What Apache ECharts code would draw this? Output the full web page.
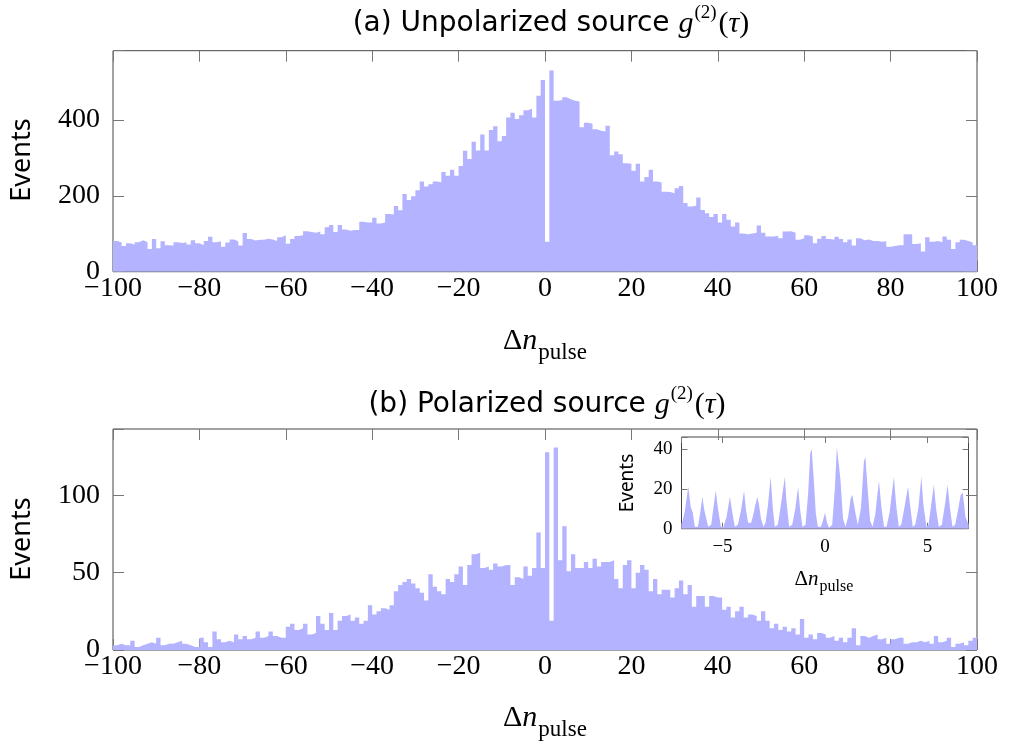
<!DOCTYPE html>
<html><head><meta charset="utf-8">
<script src="https://cdn.jsdelivr.net/npm/echarts@6/dist/echarts.min.js"></script>
<style>html,body{margin:0;padding:0;background:#fff}#c{width:1009px;height:742px}</style>
</head><body><div id="c"></div>
<script>
// ---------- data ----------
const binStart = -100;          // first bin left edge (pulses), bin width 1
const topValues = [
81,77,68,75,72,78,83,78,60,86, 62,80,70,69,78,76,78,72,83,75,
70,81,92,78,80,66,77,85,80,69, 102,86,82,84,84,87,85,81,91,96,
74,86,94,96,107,105,103,106,99,117, 123,105,123,111,108,110,110,132,130,130,
142,127,130,152,151,173,162,205,189,
199,215,238,225,231,238,236,263,253,269, 253,279,319,297,343,320,362,320,374,384,
344,358,407,419,403,413,426,430,407,464, 506,
79,
531,451,453,460,455,451,449,381,393,390, 376,372,370,385,307,317,310,286,285,266,
285,238,250,269,238,235,211,210,207,220, 226,181,172,
174,196,163,154,144,152,130,152,137,119, 130,101,99,101,103,122,103,93,93,95,
88,106,107,103,84,88,96,93,75,87, 94,86,84,92,86,78,85,69,88,83,
85,81,81,79,80,66,68,70,70,99, 99,73,75,53,91,79,81,78,93,84,
60,78,84,81,77,70
];
const bottomValues = [
3,4,3,3,6,2,3,4,5,4, 8,3,4,4,5,6,4,3,2,2,
8,5,2,12,7,5,6,5,10,7, 9,7,8,12,8,9,12,9,8,8,
15,17,13,14,17,10,11,22,17,13, 24,13,19,22,23,19,21,17,19,29,
23,25,27,26,29,38,42,44,46,
43,40,37,32,49,41,38,36,46,44, 49,54,42,55,62,63,53,54,52,56,
54,55,55,42,47,46,54,48,53,76, 53,
128,19,131,58,80,51,62,53,53,57, 53,59,54,57,57,58,46,40,55,58,
40,50,55,52,38,46,36,39,39,34, 40,45,36,42,28,35,
35,28,35,34,34,26,28,21,25,28, 21,23,22,19,25,19,14,17,13,15,
12,14,10,20,8,10,7,11,10,8, 9,6,8,5,8,14,3,9,8,9,
10,7,8,4,7,8,8,4,5,5, 6,5,6,4,9,5,6,8,2,4,
5,3,6,8
];
const insetX = [-7.0,-6.85,-6.67,-6.55,-6.45,-6.35,-6.2,-6.1,-5.98,-5.9,-5.82,-5.7,-5.55,-5.45,-5.33,-5.22,-5.08,
-4.95,-4.8,-4.64,-4.52,-4.4,-4.25,-4.1,-3.95,-3.85,-3.75,-3.6,-3.5,-3.42,-3.3,-3.22,-3.12,-3.0,-2.9,-2.78,-2.65,
-2.55,-2.45,-2.3,-2.15,-1.96,-1.88,-1.75,-1.6,-1.45,-1.31,-1.22,-1.1,-0.95,-0.82,-0.72,-0.65,-0.55,-0.45,-0.35,
-0.2,-0.1,0.0,0.1,0.2,0.35,0.48,0.58,0.65,0.75,0.88,1.0,1.13,1.25,1.33,1.42,1.5,1.6,1.75,1.9,1.97,2.08,2.2,2.32,
2.45,2.63,2.75,2.88,3.0,3.15,3.36,3.47,3.6,3.72,3.88,4.05,4.15,4.28,4.4,4.55,4.7,4.8,4.95,5.05,5.18,5.31,5.42,
5.55,5.7,5.85,5.98,6.1,6.22,6.35,6.5,6.62,6.72,6.85,7.0];
const insetY = [2,8,21,11,8,1,1,7,16,10,9,1,2,10,19,10,1,
1,6,16,8,1,2,9,19,9,3,3,7,11,16,12,5,1,3,12,26,
11,1,2,12,26,14,1,2,10,21,10,1,2,18,38,40,25,8,1,
1,4,8,3,0.5,2,20,41,42,25,5,1,6,15,17,16,7,2,10,34,36,20,4,1,
7,24,11,1,1,8,26,12,1,2,11,21,12,1,2,10,26,12,1,
2,12,22,10,1,2,12,22,10,1,2,10,17,18,6,2];
const titleA = '(a) Unpolarized source ';
const titleB = '(b) Polarized source ';
const yName = 'Events';

// ---------- helpers ----------
const FILL = '#b3b3ff';
const SERIF = 'Liberation Serif';
const SANS = 'Noto Sans';
const TSANS = 'DejaVu Sans';
const minus = v => (v < 0 ? '\u2212' + Math.abs(v) : String(v));
function stepData(vals, start) {
  const d = vals.map((v, i) => [start + i, v]);
  d.push([start + vals.length, vals[vals.length - 1]]);
  return d;
}
const tickMain = {inside: true, length: 11, lineStyle: {color: '#777', width: 1}};
const tickInset = {inside: true, length: 6, lineStyle: {color: '#777', width: 1}};
function xAx(g, pos, label, o) {
  return Object.assign({
    type: 'value', gridIndex: g, position: pos,
    axisLine: {show: false, onZero: false}, splitLine: {show: false},
    axisTick: tickMain,
    axisLabel: {show: label, margin: 3, fontFamily: SERIF, fontSize: 28, color: '#000', formatter: minus}
  }, o);
}
function yAx(g, pos, label, o) {
  return Object.assign({
    type: 'value', gridIndex: g, position: pos,
    axisLine: {show: false, onZero: false}, splitLine: {show: false},
    axisTick: tickMain,
    axisLabel: {show: label, margin: 13, fontFamily: SERIF, fontSize: 28, color: '#000'}
  }, o);
}
const gridBox = {show: true, borderColor: '#444', borderWidth: 1, backgroundColor: 'transparent'};
const areaSeries = (xi, yi, data, step) => ({
  type: 'line', xAxisIndex: xi, yAxisIndex: yi, data: data, step: step,
  symbol: 'none', showSymbol: false, silent: true, animation: false,
  lineStyle: {width: 0}, itemStyle: {color: FILL},
  areaStyle: {color: FILL, opacity: 1}
});
const titleRich = {
  s: {fontFamily: TSANS, fontSize: 28, fill: '#000'},
  m: {fontFamily: SERIF, fontStyle: 'italic', fontSize: 30, fill: '#000'},
  p: {fontFamily: SERIF, fontSize: 19, fill: '#000', padding: [0, 2, 22, 1]},
  r: {fontFamily: SERIF, fontSize: 30, fill: '#000'}
};
const dnRich = (big, small, pad) => ({
  d: {fontFamily: SERIF, fontSize: big, fill: '#000'},
  n: {fontFamily: SERIF, fontStyle: 'italic', fontSize: big, fill: '#000'},
  s: {fontFamily: SERIF, fontSize: small, fill: '#000', padding: [pad, 0, 0, 1]}
});
const dnText = '{d|\u0394}{n|n}{s|pulse}';

const chart = echarts.init(document.getElementById('c'), null, {renderer: 'canvas'});
chart.setOption({
  animation: false,
  backgroundColor: '#fff',
  grid: [
    Object.assign({left: 113, top: 50.7, width: 864, height: 221}, gridBox),
    Object.assign({left: 113, top: 429, width: 864, height: 221}, gridBox),
    Object.assign({left: 681.5, top: 437, width: 287, height: 91.7}, gridBox)
  ],
  xAxis: [
    xAx(0, 'bottom', true, {min: -100, max: 100, interval: 20}),
    xAx(0, 'top', false, {min: -100, max: 100, interval: 20}),
    xAx(1, 'bottom', true, {min: -100, max: 100, interval: 20}),
    xAx(1, 'top', false, {min: -100, max: 100, interval: 20}),
    xAx(2, 'bottom', true, {min: -7, max: 7, splitNumber: 3, axisTick: tickInset,
      axisLabel: {margin: 9, fontFamily: SERIF, fontSize: 19, color: '#000',
        formatter: v => (v % 5 === 0 ? minus(v) : '')}}),
    xAx(2, 'top', false, {min: -7, max: 7, splitNumber: 3, axisTick: tickInset})
  ],
  yAxis: [
    yAx(0, 'left', true, {min: 0, max: 583, interval: 200,
      axisLabel: {margin: 13, fontFamily: SERIF, fontSize: 28, color: '#000',
        formatter: v => (v % 200 === 0 ? String(v) : '')}}),
    yAx(0, 'right', false, {min: 0, max: 583, interval: 200}),
    yAx(1, 'left', true, {min: 0, max: 143, interval: 50,
      axisLabel: {margin: 13, fontFamily: SERIF, fontSize: 28, color: '#000',
        formatter: v => (v % 50 === 0 ? String(v) : '')}}),
    yAx(1, 'right', false, {min: 0, max: 143, interval: 50}),
    yAx(2, 'left', true, {min: 0, max: 46, interval: 20, axisTick: tickInset,
      axisLabel: {margin: 9, fontFamily: SERIF, fontSize: 19, color: '#000',
        formatter: v => (v % 20 === 0 ? String(v) : '')}}),
    yAx(2, 'right', false, {min: 0, max: 46, interval: 20, axisTick: tickInset})
  ],
  series: [
    areaSeries(0, 0, stepData(topValues, binStart), 'end'),
    areaSeries(2, 2, stepData(bottomValues, binStart), 'end'),
    areaSeries(4, 4, insetX.map((x, i) => [x, insetY[i]]), false)
  ],
  graphic: [
    {type: 'text', x: 551, y: 24, silent: true, style: {
      text: '{s|' + titleA + '}{m|g}{p|(2)}{r|(}{m|\u03c4}{r|)}', rich: titleRich,
      align: 'center', verticalAlign: 'middle'}},
    {type: 'text', x: 547, y: 405, silent: true, style: {
      text: '{s|' + titleB + '}{m|g}{p|(2)}{r|(}{m|\u03c4}{r|)}', rich: titleRich,
      align: 'center', verticalAlign: 'middle'}},
    {type: 'text', x: 545, y: 341, silent: true, style: {
      text: dnText, rich: dnRich(30, 23, 24), align: 'center', verticalAlign: 'middle'}},
    {type: 'text', x: 545, y: 718, silent: true, style: {
      text: dnText, rich: dnRich(30, 23, 24), align: 'center', verticalAlign: 'middle'}},
    {type: 'text', x: 824, y: 579, silent: true, style: {
      text: dnText, rich: dnRich(21, 16, 16), align: 'center', verticalAlign: 'middle'}},
    {type: 'text', x: 22, y: 160, rotation: Math.PI / 2, silent: true, style: {
      text: yName, fontFamily: SANS, fontSize: 27, fill: '#000', align: 'center', verticalAlign: 'middle'}},
    {type: 'text', x: 22, y: 539, rotation: Math.PI / 2, silent: true, style: {
      text: yName, fontFamily: SANS, fontSize: 27, fill: '#000', align: 'center', verticalAlign: 'middle'}},
    {type: 'text', x: 628, y: 483, rotation: Math.PI / 2, silent: true, style: {
      text: yName, fontFamily: SANS, fontSize: 19, fill: '#000', align: 'center', verticalAlign: 'middle'}}
  ]
});
</script>
</body></html>
